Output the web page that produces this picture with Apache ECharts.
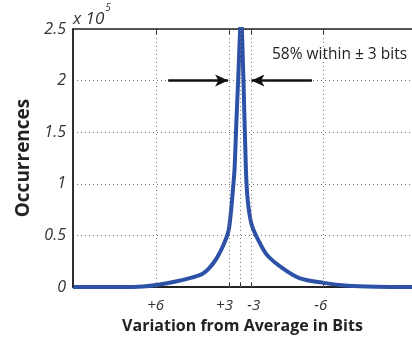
<!DOCTYPE html>
<html>
<head>
<meta charset="utf-8">
<script src="https://cdn.jsdelivr.net/npm/echarts@6/dist/echarts.min.js"></script>
<style>
  html, body { margin: 0; padding: 0; background: #fff; }
  #chart { width: 412px; height: 339px; }
</style>
</head>
<body>
<div id="chart"></div>
<script>
// offset from the average, in plot units (the bit scale is not linear)
const offsets = [-172, -120, -100, -86, -65, -49, -39, -32, -24, -17, -12, -9.7, -7.3, -5.7, -3.8, -2, 1,
  3.5, 6, 8, 12, 19, 27.7, 44, 61, 86, 111, 140, 177];
// occurrences, x 10^5
const occurrences = [0, 0, 0.006, 0.02, 0.055, 0.093, 0.125, 0.18, 0.28, 0.41, 0.54, 0.7, 0.95, 1.14, 1.6, 2.0, 2.6,
  2.0, 1.14, 0.83, 0.6, 0.45, 0.31, 0.18, 0.087, 0.04, 0.012, 0.002, 0];

const tickOffsets = [-86, -11, 0, 11, 86];
const labelOffsets = [-87, -16, 14, 83];
const tickLabels = ['+6', '+3', '-3', '-6'];

const arrowLeft = [[-74, 2], [-12.3, 2]];
const arrowRight = [[74, 2], [11.7, 2]];
const note = '58% within \u00b1 3 bits';

const font = '"Open Sans", "DejaVu Sans", sans-serif';
const xMin = -172, xMax = 177;
const yMin = 0, yMax = 2.5;

const chart = echarts.init(document.getElementById('chart'));

const labelFor = (v) => {
  const i = labelOffsets.indexOf(v);
  return i >= 0 ? tickLabels[i] : '';
};

chart.setOption({
  animation: false,
  grid: { left: 73, top: 29, right: -10, bottom: 50 },
  xAxis: [
    {
      type: 'value',
      min: xMin,
      max: xMax,
      name: 'Variation from Average in Bits',
      nameLocation: 'middle',
      nameGap: 31,
      nameTextStyle: { fontFamily: font, fontSize: 16, fontWeight: 'bold', color: '#222' },
      axisLine: { onZero: false, lineStyle: { color: '#222', width: 2 } },
      axisTick: { show: true, inside: true, length: 5, customValues: tickOffsets, lineStyle: { color: '#222' } },
      axisLabel: {
        customValues: labelOffsets,
        formatter: labelFor,
        fontFamily: font, fontSize: 15, fontStyle: 'italic', color: '#333', margin: 11
      },
      splitLine: { show: false }
    },
    {
      type: 'value',
      position: 'top',
      min: xMin,
      max: xMax,
      axisLine: { show: true, onZero: false, lineStyle: { color: '#222', width: 1.5 } },
      axisTick: { show: true, inside: true, length: 5, customValues: tickOffsets, lineStyle: { color: '#222' } },
      axisLabel: { show: false },
      splitLine: { show: false }
    }
  ],
  yAxis: {
    type: 'value',
    position: 'left',
    min: yMin,
    max: yMax,
    interval: 0.5,
    name: 'Occurrences',
    nameLocation: 'middle',
    nameGap: 38,
    nameTextStyle: { fontFamily: font, fontSize: 19, fontWeight: 'bold', color: '#222' },
    axisLine: { show: true, onZero: false, lineStyle: { color: '#222', width: 1.5 } },
    axisTick: { show: false },
    axisLabel: { fontFamily: font, fontSize: 16, fontStyle: 'italic', color: '#333', margin: 7 },
    splitLine: { show: true, lineStyle: { type: [1, 3], color: '#777', width: 1 } }
  },
  graphic: [
    {
      type: 'text',
      left: 73,
      top: 3,
      style: {
        text: '{a|x 10}{b|5}',
        rich: {
          a: { fontFamily: font, fontSize: 17, fontStyle: 'italic', fill: '#333', padding: [10, 0, 0, 0] },
          b: { fontFamily: font, fontSize: 10, fontStyle: 'italic', fill: '#333', padding: [0, 0, 12, 1] }
        }
      }
    },
    {
      type: 'text',
      left: 272,
      top: 47,
      style: { text: note, fontFamily: font, fontSize: 15.5, fill: '#222' }
    }
  ],
  series: [
    {
      type: 'line',
      data: [],
      silent: true,
      markLine: {
        silent: true,
        symbol: 'none',
        label: { show: false },
        lineStyle: { type: [1, 3], color: '#777', width: 1 },
        data: tickOffsets.map((v) => ({ xAxis: v }))
      }
    },
    {
      // left frame of the plot box
      type: 'line',
      data: [[xMin, yMin], [xMin, yMax]],
      silent: true,
      clip: false,
      showSymbol: false,
      lineStyle: { color: '#222', width: 1.5 },
      z: 5
    },
    {
      type: 'line',
      data: offsets.map((x, i) => [x, occurrences[i]]),
      showSymbol: false,
      smooth: 0.3,
      lineStyle: { color: '#2c51a6', width: 4 },
      z: 3
    },
    {
      type: 'line',
      data: [],
      silent: true,
      markLine: {
        silent: true,
        symbol: ['none', 'arrow'],
        symbolSize: [9, 13],
        label: { show: false },
        lineStyle: { type: 'solid', color: '#111', width: 2.5 },
        data: [
          [{ coord: arrowLeft[0] }, { coord: arrowLeft[1] }],
          [{ coord: arrowRight[0] }, { coord: arrowRight[1] }]
        ]
      },
      z: 4
    }
  ]
});

window.addEventListener('resize', chart.resize);
</script>
</body>
</html>
